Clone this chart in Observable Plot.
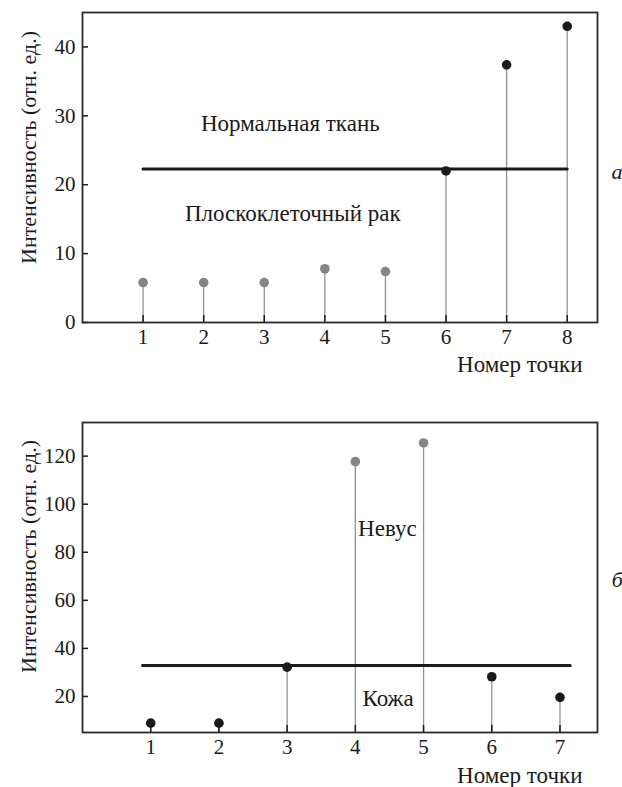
<!DOCTYPE html>
<html>
<head>
<meta charset="utf-8">
<script src="https://cdn.jsdelivr.net/npm/d3@7"></script>
<script src="https://cdn.jsdelivr.net/npm/@observablehq/plot@0.6"></script>
<style>
  html, body { margin: 0; padding: 0; background: #fff; }
  #chart { width: 622px; }
  #chart svg { display: block; }
</style>
</head>
<body>
<div id="chart"></div>
<script>
// Panel а: squamous cell carcinoma vs. normal tissue
const pointsA = [1, 2, 3, 4, 5, 6, 7, 8];
const intensityA = [5.8, 5.8, 5.8, 7.8, 7.4, 22.0, 37.4, 43.0];
const tissueA = ["рак", "рак", "рак", "рак", "рак", "норма", "норма", "норма"];
const thresholdA = 22.3;
const ticksYA = [0, 10, 20, 30, 40];

// Panel б: nevus vs. skin
const pointsB = [1, 2, 3, 4, 5, 6, 7];
const intensityB = [8.9, 8.9, 32.2, 117.7, 125.5, 28.2, 19.6];
const tissueB = ["кожа", "кожа", "кожа", "невус", "невус", "кожа", "кожа"];
const thresholdB = 32.9;
const ticksYB = [20, 40, 60, 80, 100, 120];

const yTitle = "Интенсивность (отн. ед.)";
const xTitle = "Номер точки";

const dotColor = {"рак": "#858585", "невус": "#858585", "норма": "#1a1a1a", "кожа": "#1a1a1a"};
const font = "'Liberation Serif', 'Times New Roman', serif";
const ink = "#1a1a1a";

function panel({points, values, tissue, threshold, lineX, yDomain, xDomain, yTicks,
                height, marginTop, marginBottom, notes, letter, xTitleDy, yTitleDy}) {
  const data = points.map((p, i) => ({point: p, value: values[i], tissue: tissue[i]}));
  const y0 = yDomain[0];
  const fmt = d3.format("d");
  return Plot.plot({
    width: 622,
    height,
    marginLeft: 82,
    marginRight: 25,
    marginTop,
    marginBottom,
    style: {fontFamily: font, fontSize: "22px", color: ink, background: "#fff", overflow: "hidden"},
    x: {domain: xDomain},
    y: {domain: yDomain},
    marks: [
      // stems from the baseline up to each measurement
      Plot.ruleX(data, {x: "point", y1: y0, y2: "value", stroke: "#939393", strokeWidth: 1.3}),
      // separating threshold line
      Plot.lineY([{x: lineX[0], y: threshold}, {x: lineX[1], y: threshold}],
                 {x: "x", y: "y", stroke: ink, strokeWidth: 3}),
      Plot.dot(data, {x: "point", y: "value", r: 4.8, fill: d => dotColor[d.tissue], stroke: "none"}),
      // region labels
      Plot.text(notes, {x: "x", y: "y", text: "text", fill: ink, fontSize: 23}),
      // axes: inward ticks, labels outside
      Plot.axisX({ticks: points, tickSize: -7, fill: "none", stroke: ink, strokeWidth: 1.5}),
      Plot.axisX({ticks: points, tickSize: 0, tickPadding: 7, label: null, tickFormat: fmt, fontSize: 21}),
      Plot.axisY({ticks: yTicks, tickSize: -6, fill: "none", stroke: ink, strokeWidth: 1.5}),
      Plot.axisY({ticks: yTicks, tickSize: 0, tickPadding: 7, label: null, tickFormat: fmt, fontSize: 21}),
      // axis titles
      Plot.text([yTitle], {frameAnchor: "left", textAnchor: "middle", rotate: -90, dx: -54, dy: yTitleDy,
                           fill: ink, fontSize: 22}),
      Plot.text([xTitle], {frameAnchor: "bottom-right", textAnchor: "end", dx: -15, dy: xTitleDy,
                           fill: ink, fontSize: 23}),
      // panel letter
      Plot.text([letter], {x: letter.x, y: letter.y, text: () => letter.text, textAnchor: "start",
                            fontStyle: "italic", fill: ink}),
      Plot.frame({stroke: "#2a2a2a", strokeWidth: 1.8})
    ]
  });
}

const chart = document.getElementById("chart");

chart.append(panel({
  points: pointsA, values: intensityA, tissue: tissueA, threshold: thresholdA,
  lineX: [1, 8], yDomain: [0, 45], xDomain: [0, 8.5], yTicks: ticksYA,
  height: 390, marginTop: 12, marginBottom: 68, xTitleDy: 49, yTitleDy: -20,
  notes: [
    {x: 3.43, y: 28.9, text: "Нормальная ткань"},
    {x: 3.47, y: 15.8, text: "Плоскоклеточный рак"}
  ],
  letter: {x: 8.73, y: 21.8, text: "а"}
}));

chart.append(panel({
  points: pointsB, values: intensityB, tissue: tissueB, threshold: thresholdB,
  lineX: [0.88, 7.15], yDomain: [5, 134], xDomain: [0, 7.55], yTicks: ticksYB,
  height: 397, marginTop: 32, marginBottom: 55, xTitleDy: 50, yTitleDy: -21,
  notes: [
    {x: 4.47, y: 90, text: "Невус"},
    {x: 4.48, y: 19.3, text: "Кожа"}
  ],
  letter: {x: 7.76, y: 68.5, text: "б"}
}));
</script>
</body>
</html>
